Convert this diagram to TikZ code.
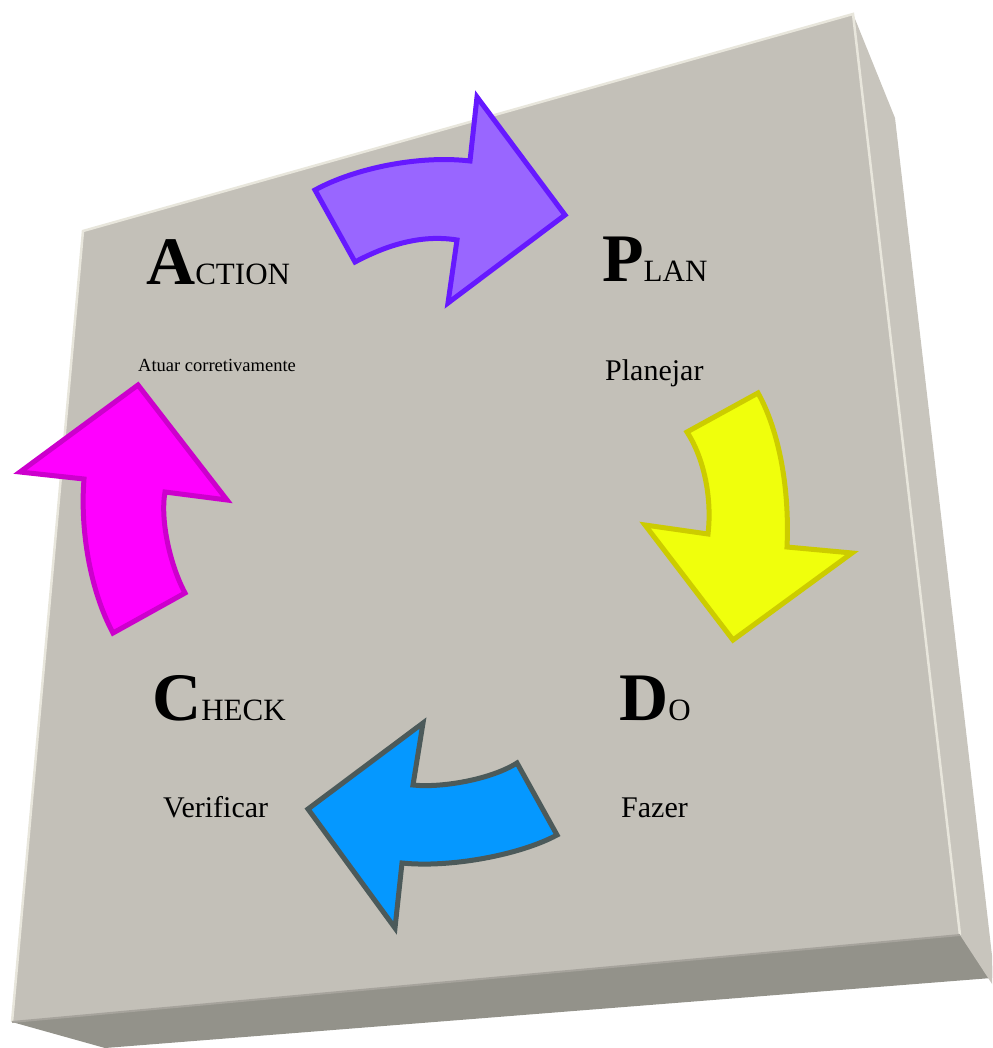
\documentclass[tikz,border=0pt]{standalone}
\usepackage{fontspec}
\setmainfont{Liberation Serif}
\usepackage{tikz}
\usetikzlibrary{positioning}
\definecolor{front}{HTML}{C3C0B8}
\definecolor{seite}{HTML}{C8C5BD}
\definecolor{boden}{HTML}{93928A}
\definecolor{kante}{HTML}{E8E6DC}
\definecolor{lila}{HTML}{9966FF}
\definecolor{lilarand}{HTML}{6619FF}
\definecolor{gelb}{HTML}{F0FF0C}
\definecolor{gelbrand}{HTML}{CCCC00}
\definecolor{blau}{HTML}{0598FF}
\definecolor{blaurand}{HTML}{4C5A5A}
\definecolor{magenta}{HTML}{FF00FF}
\definecolor{magentarand}{HTML}{CC00CC}

\begin{document}
\begin{tikzpicture}[
        x=1pt, y=-1pt,
        pfeil/.style={line width=5pt, line join=miter},
        gross/.style={anchor=base west, inner sep=0pt},
        klein/.style={anchor=base west, inner sep=0pt, font=\fontsize{30}{30}\selectfont},
      ]
      \useasboundingbox (0,0) rectangle (992,1048);
      \clip (0,0) rectangle (992,1048);

      % Quader
      \fill[boden] (12,1022) -- (960,935) -- (1004,977) -- (105,1048) -- cycle;
      \fill[seite] (853,14) -- (895,118) -- (996,990) -- (960,935) -- cycle;
      \fill[front] (83,231) -- (853,14) -- (960,935) -- (12,1022) -- cycle;
      \draw[kante, line width=2.5pt] (12,1022) -- (83,231) -- (853,14) -- (960,935);
      \draw[front!85!black, line width=2pt] (12,1022) -- (960,935);

      % Pfeile
      \draw[pfeil, lilarand, fill=lila]
        (315,190) .. controls (355,168) and (420,155) .. (470,161)
        -- (477,97) -- (565,215) -- (448,303) -- (457,240)
        .. controls (420,234) and (385,246) .. (355,262) -- cycle;
      \draw[pfeil, gelbrand, fill=gelb]
        (758,393) .. controls (776,425) and (790,480) .. (787,547)
        -- (852,553) -- (733,640) -- (645,525) -- (708,534)
        .. controls (712,500) and (705,460) .. (687,432) -- cycle;
      \draw[pfeil, blaurand, fill=blau]
        (557,835) .. controls (520,855) and (450,868) .. (402,863)
        -- (395,928) -- (308,809) -- (423,723) -- (413,785)
        .. controls (440,788) and (490,780) .. (517,763) -- cycle;
      \draw[pfeil, magentarand, fill=magenta]
        (113,633) .. controls (90,590) and (80,530) .. (84,479)
        -- (20,472) -- (138,385) -- (227,500) -- (165,492)
        .. controls (160,520) and (170,565) .. (185,593) -- cycle;

      % Beschriftung
      \node[gross] (action) at (146,284)
        {{\fontsize{68}{68}\selectfont\bfseries A}{\fontsize{31}{31}\selectfont CTION}};
      \node[gross] (plan) at (602,282)
        {{\fontsize{68}{68}\selectfont\bfseries P}{\fontsize{31}{31}\selectfont LAN}};
      \node[gross] (check) at (152,720)
        {{\fontsize{68}{68}\selectfont\bfseries C}{\fontsize{31}{31}\selectfont HECK}};
      \node[gross] (do) at (619,720)
        {{\fontsize{68}{68}\selectfont\bfseries D}{\fontsize{31}{31}\selectfont O}};
      \node[gross, font=\fontsize{18.5}{18.5}\selectfont] (atuar) at (138,371) {Atuar corretivamente};
      \node[klein] (planejar) at (605,380) {Planejar};
      \node[klein] (verificar) at (163,817) {Verificar};
      \node[klein] (fazer) at (621,817) {Fazer};
    \end{tikzpicture}
\end{document}
